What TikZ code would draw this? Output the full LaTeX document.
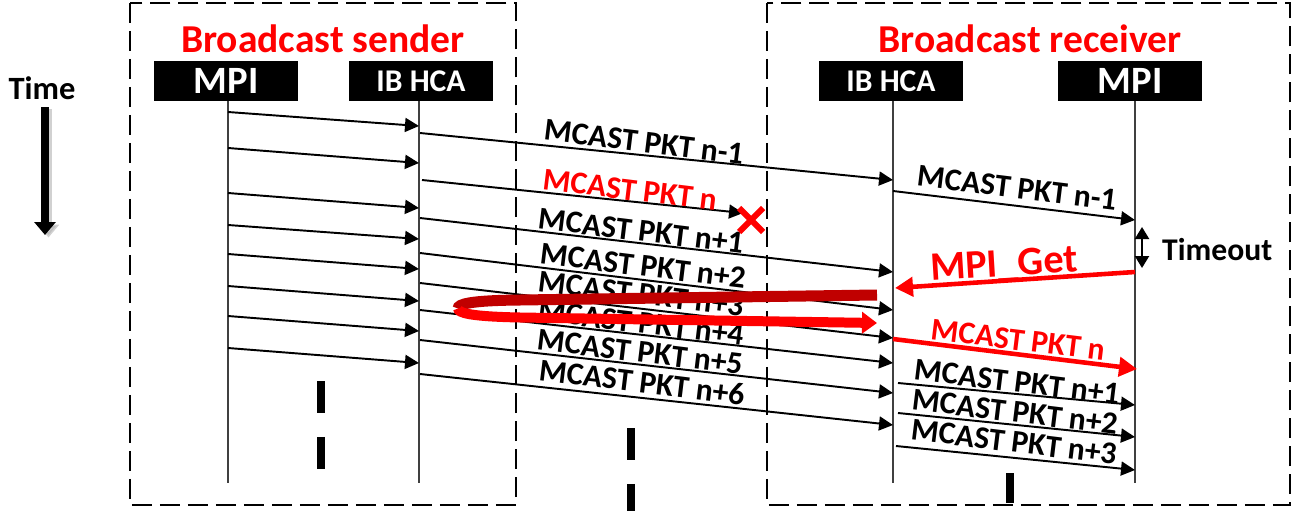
\documentclass[tikz,border=0pt]{standalone}
\usepackage{fontspec}
\setmainfont{Carlito}
\usetikzlibrary{arrows.meta}

\definecolor{darkred}{RGB}{192,0,0}

\tikzset{
  grp/.style={line width=1.1pt, dash pattern=on 0.4cm off 0.16cm},
  hdr/.style={text=red, font=\fontsize{22.5}{26}\selectfont\bfseries},
  actor/.style={fill=black, text=white, minimum width=2.88cm, minimum height=0.8cm,
    inner sep=0pt, font=\fontsize{18}{20}\selectfont\bfseries},
  life/.style={draw=black!75, line width=0.6pt},
  msg/.style={line width=1.1pt, -{Triangle[length=0.28cm,width=0.28cm]}},
  redmsg/.style={draw=red, line width=2.6pt, -{Triangle[length=0.36cm,width=0.38cm]}},
  pkt/.style={font=\fontsize{18}{20}\selectfont\bfseries, rotate=-7, inner sep=0pt},
  ellip/.style={line width=0.16cm, dash pattern=on 0.64cm off 0.48cm},
}

\begin{document}
\begin{tikzpicture}[x=0.02cm, y=-0.02cm]
  \useasboundingbox (0,0) rectangle (1293,510);

  % 两侧虚线框
  \draw[grp] (130,3) rectangle (516,505);
  \draw[grp] (767,3) rectangle (1290,505);
  \node[hdr] (hs) at (323,39) {Broadcast sender};
  \node[hdr] (hr) at (1030,39) {Broadcast receiver};

  % 时间轴
  \node[font=\fontsize{18.5}{20}\selectfont\bfseries] (time) at (42,88) {Time};
  \coordinate (t0) at (45,107);
  \coordinate (t1) at (45,235);
  \draw[line width=0.16cm, black!30, opacity=0.6, -{Triangle[length=0.26cm,width=0.42cm]},
    transform canvas={shift={(0.07cm,-0.05cm)}}] (t0) -- (t1);
  \draw[line width=0.16cm, -{Triangle[length=0.26cm,width=0.42cm]}] (t0) -- (t1);

  % 参与者与生命线
  \node[actor, font=\fontsize{22}{24}\selectfont\bfseries] (smpi) at (226,81) {MPI};
  \node[actor] (shca) at (421,81) {IB HCA};
  \node[actor] (rhca) at (891,81) {IB HCA};
  \node[actor, font=\fontsize{22}{24}\selectfont\bfseries] (rmpi) at (1130,81) {MPI};
  \foreach \n/\x in {smpi/228,shca/419,rhca/893,rmpi/1135}
    \draw[life] (\n.south -| \x,0) -- ++(0,382);

  % MPI -> IB HCA（发送端）
  \foreach \a/\b [count=\i] in {112/126,148/163,193/208,225/239,254/269,286/301,316/331,348/363} {
    \coordinate (m\i) at (228,\a);
    \coordinate (h\i) at (419,\b);
    \draw[msg] (m\i) -- (h\i);
  }

  % 组播包：发送端 HCA -> 接收端 HCA
  \foreach \s/\e/\lx/\ly/\t [count=\i] in {
      133/180/644/142/n-1, 218/272/641/231/n+1, 253/310/643/266/n+2,
      283/338/641/294/n+3, 310/363/641/323/n+4, 340/393/640/352/n+5,
      374/425/642/382/n+6} {
    \coordinate (a\i) at (420,\s);
    \coordinate (b\i) at (893,\e);
    \draw[msg] (a\i) -- (b\i);
    \node[pkt] (p\i) at (\lx,\ly) {MCAST PKT \t};
  }

  % 丢失的包 n
  \coordinate (a0) at (422,180);
  \coordinate (lost) at (743,213);
  \draw[msg] (a0) -- (lost);
  \node[pkt, text=red] (p0) at (630,190) {MCAST PKT n};
  \draw[red, line width=0.12cm] (739,208) -- (763,232) (739,232) -- (763,208);

  % 接收端 HCA -> MPI
  \foreach \s/\e/\x/\lx/\ly/\t [count=\i] in {
      191/220/893/1017/188/n-1, 383/405/898/1017/382/n+1,
      413/437/898/1015/412/n+2, 446/470/896/1014/442/n+3} {
    \coordinate (c\i) at (\x,\s);
    \coordinate (d\i) at (1135,\e);
    \draw[msg] (c\i) -- (d\i);
    \node[pkt] (q\i) at (\lx,\ly) {MCAST PKT \t};
  }

  % 超时后 MPI_Get 重传
  \coordinate (to0) at (1142,227);
  \coordinate (to1) at (1142,268);
  \draw[line width=1.2pt, {Triangle[length=0.24cm,width=0.28cm]}-{Triangle[length=0.24cm,width=0.28cm]}] (to0) -- (to1);
  \node[font=\fontsize{18}{20}\selectfont\bfseries, anchor=west] (tout) at (1156,250) {Timeout};

  \node[text=red, font=\fontsize{23}{26}\selectfont\bfseries, rotate=3.5, inner sep=0pt] (get) at (1004,266) {MPI\_Get};
  \coordinate (g0) at (1135,272);
  \coordinate (g1) at (895,288);
  \draw[redmsg] (g0) -- (g1);

  \coordinate (r0) at (893,339);
  \coordinate (r1) at (1137,369);
  \draw[redmsg] (r0) -- (r1);
  \node[pkt, text=red] (rn) at (1018,340) {MCAST PKT n};

  % 回转箭头
  \draw[darkred, line width=0.22cm] (877,295) -- (520,300)
    .. controls (470,300.5) and (458,304) .. (458,308.5);
  \draw[red, line width=0.2cm, -{Triangle[length=0.3cm,width=0.42cm]}] (458,308.5)
    .. controls (458,313) and (470,316.5) .. (520,317.5) -- (877,323);

  % 省略号
  \draw[ellip] (321,381) -- (321,470);
  \draw[ellip] (631,428) -- (631,512);
  \draw[ellip] (1010,473) -- (1010,503);
\end{tikzpicture}
\end{document}
